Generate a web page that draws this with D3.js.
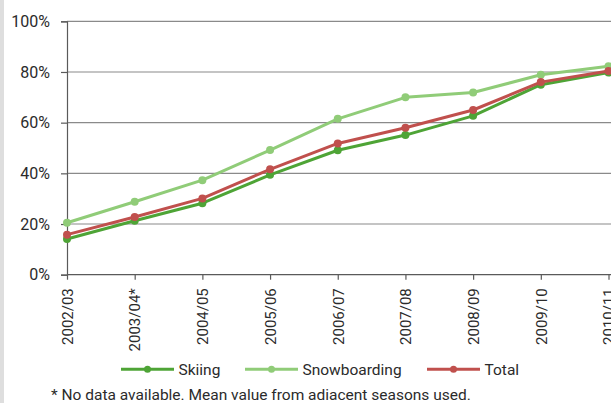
<!DOCTYPE html>
<html>
<head>
<meta charset="utf-8">
<script src="https://cdn.jsdelivr.net/npm/d3@7"></script>
<style>
  body { margin: 0; background: #fff; }
  svg text { font-family: Roboto, "DejaVu Sans Condensed", sans-serif; fill: #2b2b2b; }
</style>
</head>
<body>
<div id="chart"></div>
<script>
// seasons and share values (percent)
var seasons = ['2002/03', '2003/04*', '2004/05', '2005/06', '2006/07', '2007/08', '2008/09', '2009/10', '2010/11']
var skiing = [14.1, 21.3, 28.2, 39.4, 49.1, 55.1, 62.7, 75.0, 79.8]
var snowboarding = [20.5, 28.8, 37.3, 49.2, 61.5, 70.0, 71.9, 78.9, 82.3]
var total = [15.8, 22.8, 30.1, 41.6, 51.8, 58.0, 65.0, 76.0, 80.4]
var yTicks = [0, 20, 40, 60, 80, 100]

var seriesNames = ['Skiing', 'Snowboarding', 'Total']
var seriesColors = ['#4ea436', '#90cc78', '#c0504d']
var seriesValues = [skiing, snowboarding, total]

var width = 611
var height = 403

var svg = d3.select('#chart')
    .append('svg')
    .attr('width', width)
    .attr('height', height)

// light grey strip on the left edge
svg.append('rect')
    .attr('x', 0).attr('y', 0)
    .attr('width', 4).attr('height', height)
    .attr('fill', '#dedede')

var x = d3.scalePoint()
    .domain(seasons)
    .range([67, 608.5])

var y = d3.scaleLinear()
    .domain([0, 100])
    .range([274.7, 21.3])

// horizontal grid lines
svg.append('g')
    .selectAll('line')
    .data(yTicks.slice(1))
    .enter()
    .append('line')
    .attr('x1', 67)
    .attr('x2', width)
    .attr('y1', function (d) { return y(d) })
    .attr('y2', function (d) { return y(d) })
    .attr('stroke', '#8a8a8a')
    .attr('stroke-width', 1.2)

// y axis
var yAxis = svg.append('g')
    .attr('transform', 'translate(67,0)')
    .call(d3.axisLeft(y)
        .tickValues(yTicks)
        .tickSize(6)
        .tickPadding(11)
        .tickFormat(function (d) { return d + '%' }))
yAxis.select('.domain').attr('stroke', '#5a5a5a').attr('stroke-width', 1.2)
yAxis.selectAll('.tick line').attr('stroke', '#5a5a5a').attr('stroke-width', 1.2)
yAxis.selectAll('text').style('font-size', '16px').attr('fill', '#2b2b2b')

// x axis
var xAxis = svg.append('g')
    .attr('transform', 'translate(0,' + y(0) + ')')
    .call(d3.axisBottom(x).tickSize(5).tickSizeOuter(0))
xAxis.select('.domain').attr('stroke', '#5a5a5a').attr('stroke-width', 1.2)
    .attr('d', 'M67,0H' + width)
xAxis.selectAll('.tick line').attr('stroke', '#5a5a5a').attr('stroke-width', 1.2)
xAxis.selectAll('text')
    .style('font-size', '15px')
    .attr('fill', '#2b2b2b')
    .attr('text-anchor', 'end')
    .attr('x', 0)
    .attr('y', 0)
    .attr('dy', '0.35em')
    .attr('transform', 'translate(0,13.5) rotate(-90)')

// lines and markers
var line = d3.line()
    .x(function (d, i) { return x(seasons[i]) })
    .y(function (d) { return y(d) })

seriesValues.forEach(function (vals, k) {
    var g = svg.append('g')
    g.append('path')
        .datum(vals)
        .attr('d', line)
        .attr('fill', 'none')
        .attr('stroke', seriesColors[k])
        .attr('stroke-width', 3)
        .attr('stroke-linejoin', 'round')
    g.selectAll('circle')
        .data(vals)
        .enter()
        .append('circle')
        .attr('cx', function (d, i) { return x(seasons[i]) })
        .attr('cy', function (d) { return y(d) })
        .attr('r', 4)
        .attr('fill', seriesColors[k])
})

// legend
var legendX = [121, 245, 427]
var legend = svg.append('g')
    .selectAll('g')
    .data(seriesNames)
    .enter()
    .append('g')
    .attr('transform', function (d, i) { return 'translate(' + legendX[i] + ',369.3)' })

legend.append('line')
    .attr('x1', 0).attr('x2', 53)
    .attr('stroke', function (d, i) { return seriesColors[i] })
    .attr('stroke-width', 3)
legend.append('circle')
    .attr('cx', 26.5)
    .attr('r', 3.5)
    .attr('fill', function (d, i) { return seriesColors[i] })
legend.append('text')
    .attr('x', 57.5)
    .attr('dy', '0.35em')
    .style('font-size', '15.5px')
    .text(function (d) { return d })

// footnote
svg.append('text')
    .attr('x', 51)
    .attr('y', 399.5)
    .style('font-size', '15.5px')
    .attr('fill', '#1a1a1a')
    .text('* No data available. Mean value from adiacent seasons used.')
</script>
</body>
</html>
